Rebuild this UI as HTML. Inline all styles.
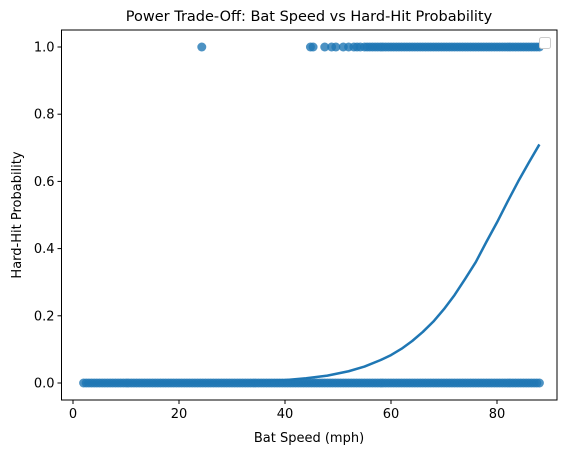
<!DOCTYPE html>
<html><head><meta charset="utf-8"><style>
body{margin:0;background:#fff;font-family:"DejaVu Sans","Liberation Sans",sans-serif}
svg text{font-family:"DejaVu Sans","Liberation Sans",sans-serif;fill:#000}
</style></head><body>
<svg id="chart" width="567" height="453" xmlns="http://www.w3.org/2000/svg">
<g id="marks"></g>
<g id="axes"></g>
<text x="309" y="21" font-size="14.5" text-anchor="middle">Power Trade-Off: Bat Speed vs Hard-Hit Probability</text>
<text x="309" y="442" font-size="13" text-anchor="middle">Bat Speed (mph)</text>
<text x="21" y="215" font-size="13" text-anchor="middle" transform="rotate(-90 21 215)">Hard-Hit Probability</text>
<rect x="539.5" y="37.5" width="11" height="11" rx="2" fill="#fff" stroke="#ccc"/>
</svg>
<script>
const xTicks=[0,20,40,60,80];
const yTicks=[0.0,0.2,0.4,0.6,0.8,1.0];
const zeroX=[2,2.5,3,3.5,4,4.5,5,5.5,6,6.5,7,7.5,8,8.5,9,9.5,10,10.5,11,11.5,12,12.5,13,13.5,14,14.5,15,15.5,16,16.5,17,17.5,18,18.5,19,19.5,20,20.5,21,21.5,22,22.5,23,23.5,24,24.5,25,25.5,26,26.5,27,27.5,28,28.5,29,29.5,30,30.5,31,31.5,32,32.5,33,33.5,34,34.5,35,35.5,36,36.5,37,37.5,38,38.5,39,39.5,40,40.5,41,41.5,42,42.5,43,43.5,44,44.5,45,45.5,46,46.5,47,47.5,48,48.5,49,49.5,50,50.5,51,51.5,52,52.5,53,53.5,54,54.5,55,55.5,56,56.5,57,57.5,58,58.5,59,59.5,60,60.5,61,61.5,62,62.5,63,63.5,64,64.5,65,65.5,66,66.5,67,67.5,68,68.5,69,69.5,70,70.5,71,71.5,72,72.5,73,73.5,74,74.5,75,75.5,76,76.5,77,77.5,78,78.5,79,79.5,80,80.5,81,81.5,82,82.5,83,83.5,84,84.5,85,85.5,86,86.5,87,87.5,88];
const oneX=[24.3,44.8,45.3,47.5,48.8,49.6,51,52,53,53.6,54.2,55,55.5,56,56.5,57,57.5,58,58.5,59,59.5,60,60.5,61,61.5,62,62.5,63,63.5,64,64.5,65,65.5,66,66.5,67,67.5,68,68.5,69,69.5,70,70.5,71,71.5,72,72.5,73,73.5,74,74.5,75,75.5,76,76.5,77,77.5,78,78.5,79,79.5,80,80.5,81,81.5,82,82.5,83,83.5,84,84.5,85,85.5,86,86.5,87,87.5,88];
const curveX=[2,10,20,30,40,44,48,52,55,58,60,62,64,66,68,70,72,74,76,78,80,82,84,86,88];
const curveY=[0.0001,0.0003,0.0008,0.0026,0.0087,0.014,0.022,0.035,0.049,0.068,0.083,0.102,0.125,0.152,0.183,0.22,0.262,0.31,0.36,0.42,0.478,0.54,0.6,0.656,0.71];
const L=61.5,R=557,T=30,B=400;
const sx=v=>73+5.3*v;
const sy=v=>383-336*v;
const NS="http://www.w3.org/2000/svg";
const marks=document.getElementById('marks'),axes=document.getElementById('axes');
function mk(t,a,p){const e=document.createElementNS(NS,t);for(const k in a)e.setAttribute(k,a[k]);p.appendChild(e);return e;}
zeroX.forEach(x=>{const c=mk('circle',{cx:sx(x),cy:sy(0),r:4.5,fill:'#1f77b4','fill-opacity':0.8},marks);

});
oneX.forEach(x=>{const c=mk('circle',{cx:sx(x),cy:sy(1),r:4.5,fill:'#1f77b4','fill-opacity':0.8},marks);

});
const d=curveX.map((x,i)=>(i?'L':'M')+sx(x)+','+sy(curveY[i])).join('');
const ln=mk('path',{d:d,fill:'none',stroke:'#1f77b4','stroke-width':2.5,'stroke-linejoin':'round'},marks);


const fr=mk('rect',{x:L,y:T,width:R-L,height:B-T,fill:'none',stroke:'#000','stroke-width':1},axes);


xTicks.forEach(v=>{mk('line',{x1:sx(v),x2:sx(v),y1:B,y2:B+4,stroke:'#000'},axes);
const t=mk('text',{x:sx(v),y:B+18,'font-size':13,'text-anchor':'middle'},axes);t.textContent=v;

});
yTicks.forEach(v=>{mk('line',{x1:L-4,x2:L,y1:sy(v),y2:sy(v),stroke:'#000'},axes);
const t=mk('text',{x:L-7,y:sy(v)+4.5,'font-size':13,'text-anchor':'end'},axes);t.textContent=v.toFixed(1);

});
</script>
</body></html>
